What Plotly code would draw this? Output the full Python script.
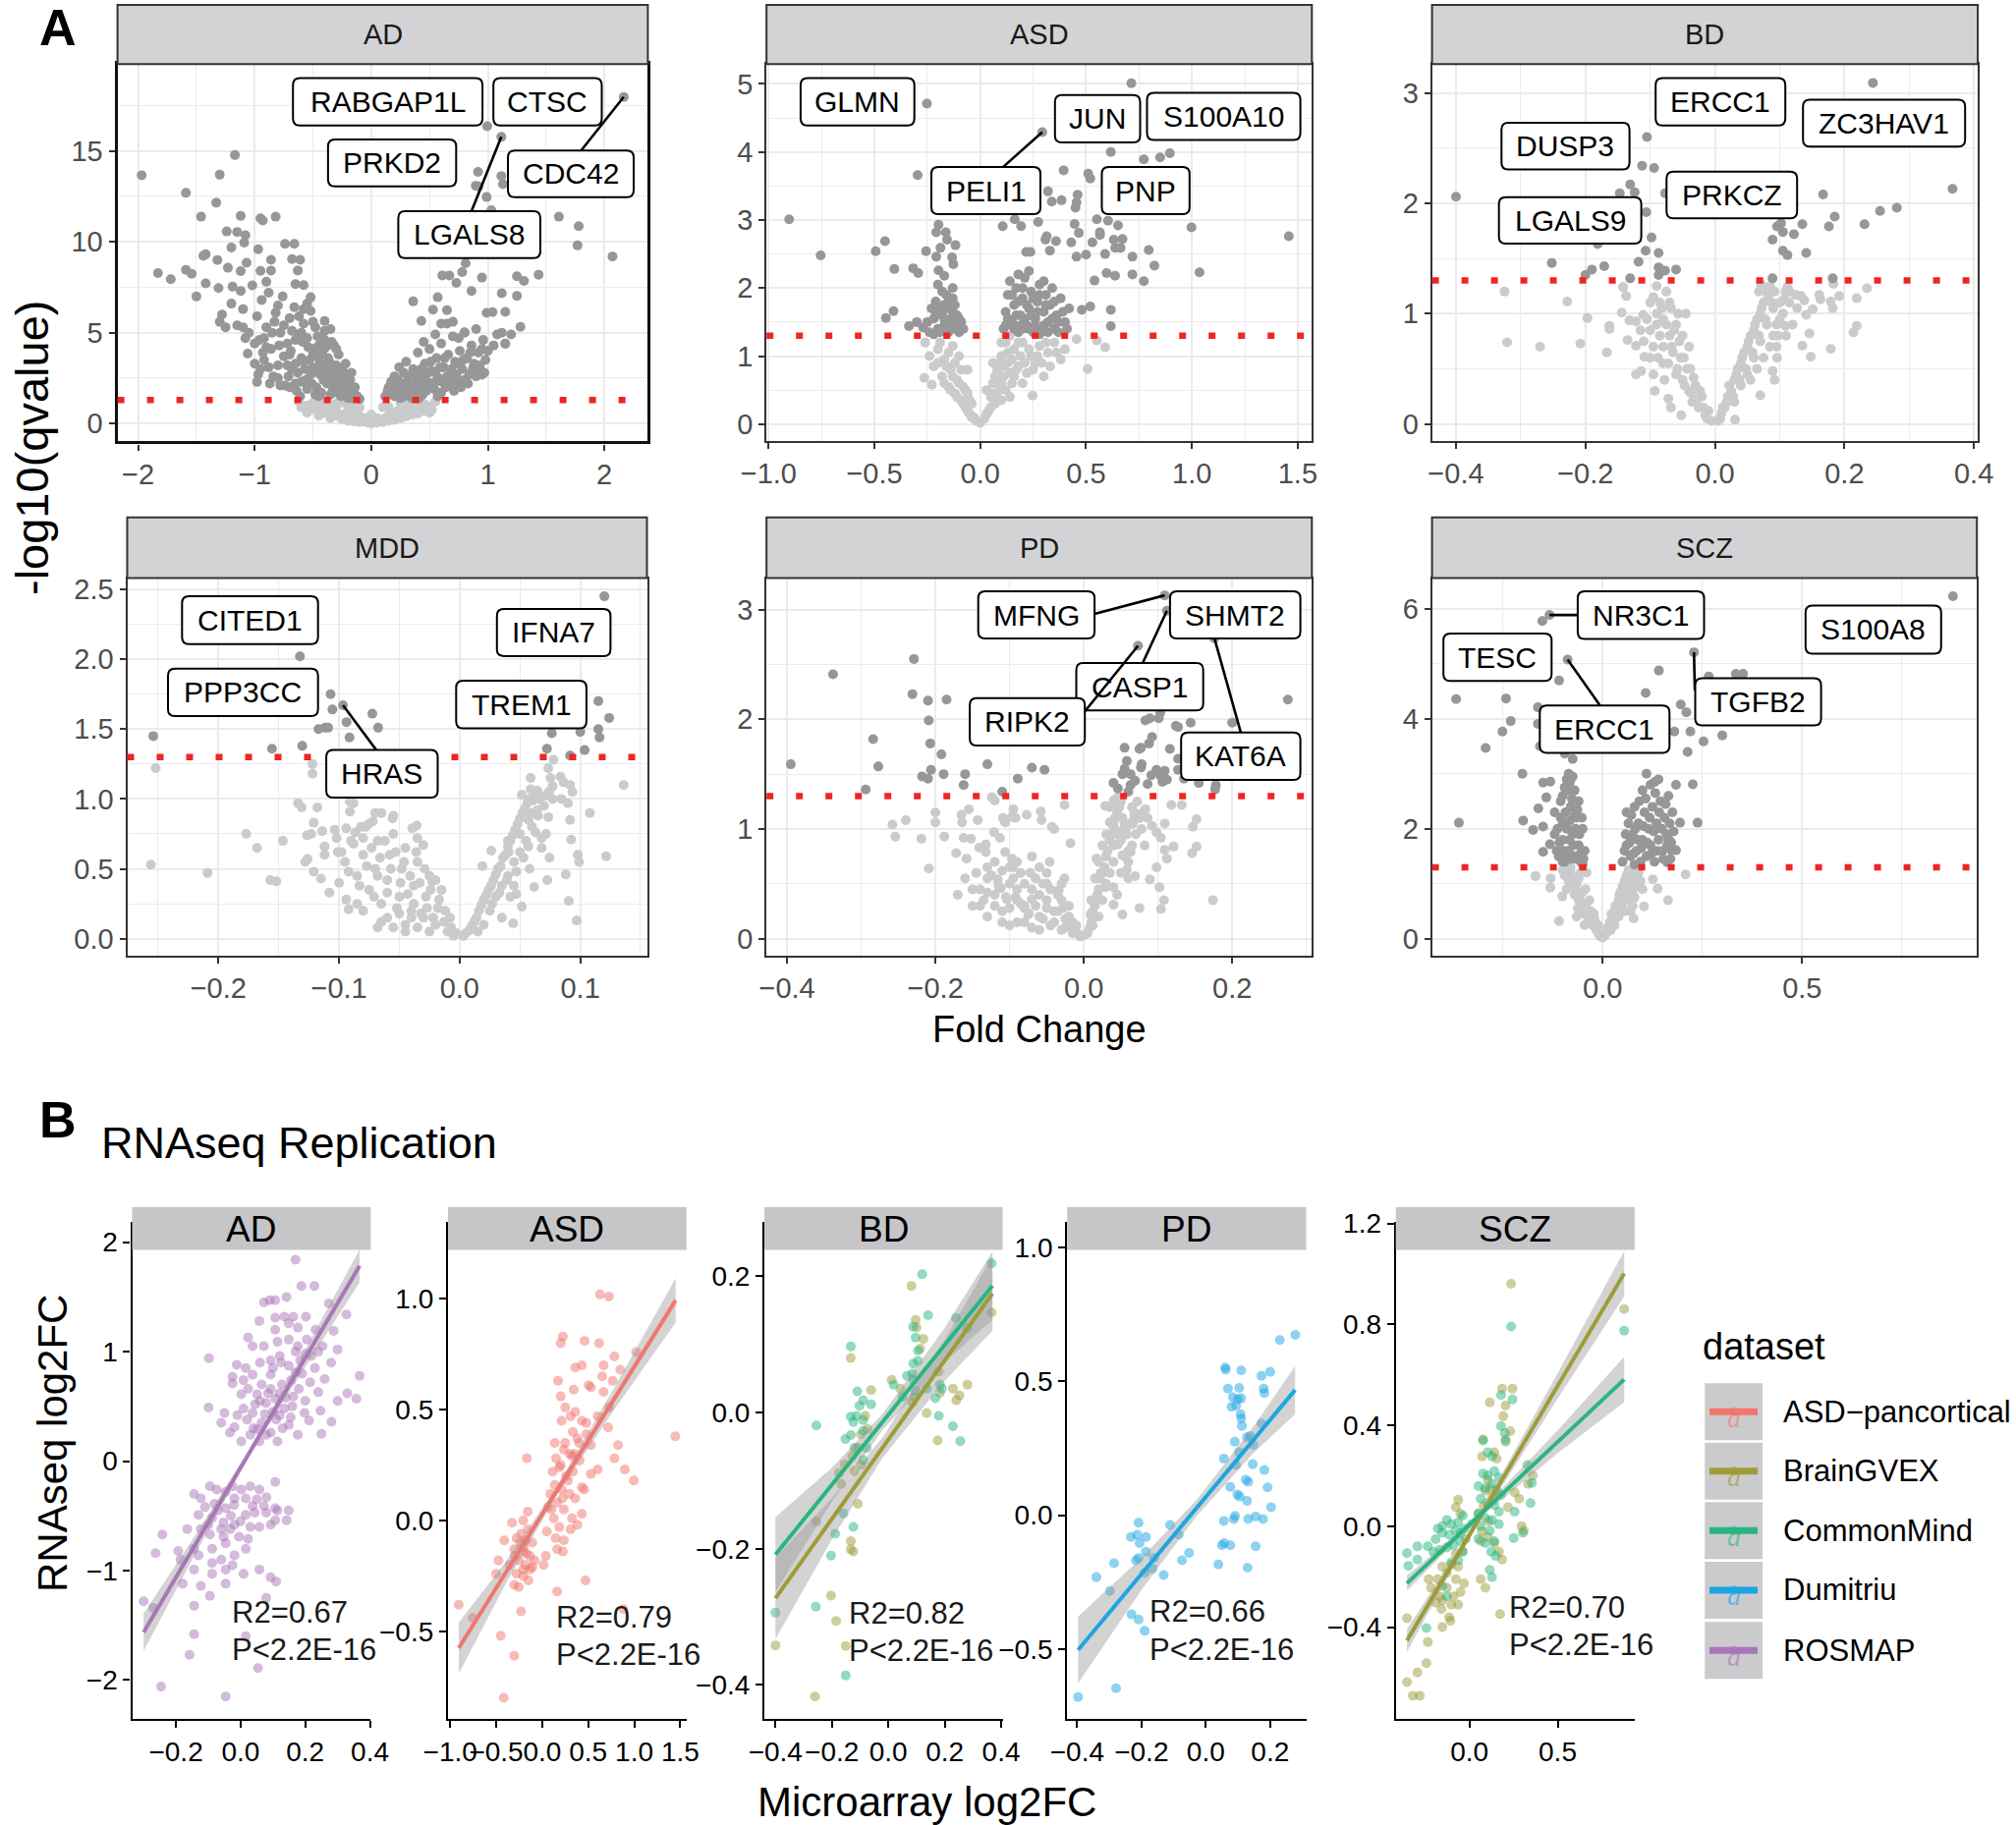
import plotly.graph_objects as go

W, H = 2052, 1858
FONT = "Liberation Sans, Arial, Helvetica, sans-serif"

# ============ PANEL A DATA: (fold change, -log10 qvalue) ============
Q_THRESHOLD = 1.3

AD_POINTS = [
    (-1.97, 13.66), (-1.17, 14.77), (-1.30, 13.69), (-1.59, 12.69), (-1.33, 12.15), (-1.46, 11.38),
    (-1.12, 11.42), (-0.95, 11.29), (-0.93, 11.17), (-0.82, 11.38), (-1.24, 10.57), (-1.15, 10.54),
    (-1.08, 10.36), (-1.20, 9.68), (-1.09, 9.95), (-0.97, 9.59), (-0.74, 9.89), (-0.66, 9.89),
    (-0.68, 9.05), (-0.61, 9.01), (-0.86, 9.01), (-1.83, 8.28), (-1.72, 7.94), (-1.59, 8.46),
    (-1.54, 8.24), (-1.44, 9.23), (-1.42, 9.32), (-1.32, 9.0), (-1.23, 8.57), (-1.07, 8.85),
    (-1.42, 7.71), (-1.50, 6.99), (-1.31, 7.46), (-1.19, 7.53), (-1.12, 8.39), (-0.86, 8.42),
    (-0.63, 8.42), (-0.65, 7.67), (-0.58, 7.62), (-0.52, 6.95), (-0.40, 5.65), (-0.32, 4.30),
    (-0.98, 2.29), (-1.06, 3.85),
    (0.995, 16.36), (1.116, 15.77), (2.166, 17.96), (0.916, 13.84), (0.897, 13.08), (0.92, 13.05),
    (0.99, 12.46), (1.116, 13.62), (1.13, 13.17), (1.03, 11.74), (1.61, 11.38), (1.78, 10.86),
    (1.77, 9.80), (2.07, 9.19), (0.81, 8.82), (0.78, 8.33), (0.61, 8.15), (0.67, 8.15), (0.73, 7.74),
    (0.86, 7.29), (0.95, 8.03), (1.25, 8.10), (1.31, 7.85), (1.436, 8.19), (1.12, 7.17), (1.25, 7.03),
    (1.15, 6.15), (0.99, 6.09), (1.04, 6.13), (1.28, 5.32), (0.36, 6.72), (0.57, 6.95), (0.53, 6.27),
    (0.65, 6.24), (0.43, 5.65), (0.65, 5.50), (1.15, 4.39), (0.95, 2.69), (0.80, 5.02),
    (-0.98, 5.9), (-0.96, 4.6), (-0.94, 6.8), (-0.92, 3.5), (-0.9, 5.3), (-0.88, 7.2), (-0.86, 4.1),
    (-0.84, 2.6), (-0.82, 6.1), (-0.8, 3.2), (-0.78, 5.0), (-0.76, 7.0), (-0.74, 2.1), (-0.72, 4.4),
    (-0.7, 5.8), (-0.68, 3.0), (-0.66, 6.4), (-0.64, 1.8), (-0.62, 4.9), (-0.6, 3.6), (-0.58, 5.5),
    (-0.56, 2.4), (-0.54, 4.2), (-0.52, 6.2), (-0.5, 3.1), (-0.48, 1.6), (-0.46, 4.8), (-0.44, 2.7),
    (-0.42, 3.9), (-0.4, 5.1), (-0.38, 2.2), (-0.36, 3.4), (-0.34, 4.5), (-0.32, 1.9), (-0.3, 2.9),
    (-0.28, 3.8), (-0.26, 1.5), (-0.24, 2.5), (-0.22, 3.3), (-0.2, 1.8), (-0.18, 2.4), (-0.16, 1.4),
    (-0.14, 2.0), (-0.12, 1.5), (-0.97, 2.7), (-0.93, 3.9), (-0.87, 2.2), (-0.83, 5.6), (-0.79, 4.3),
    (-0.75, 3.7), (-0.71, 2.6), (-0.69, 4.0), (-0.65, 3.3), (-0.63, 2.8), (-0.61, 1.5), (-0.59, 4.5),
    (-0.57, 3.0), (-0.55, 1.9), (-0.53, 3.5), (-0.51, 2.2), (-0.49, 4.1), (-0.47, 2.9), (-0.45, 3.6),
    (-0.43, 1.7), (-0.41, 2.4), (-0.39, 4.2), (-0.37, 2.8), (-0.35, 1.6), (-0.33, 3.1), (-0.31, 2.3),
    (-0.29, 1.7), (-0.27, 2.6), (-0.25, 2.0), (-0.23, 1.6), (-0.21, 2.2), (-1.05, 5.0), (-1.1, 6.3),
    (-1.15, 5.4), (-1.2, 6.6), (-1.25, 5.3), (-1.28, 6.0), (-1.3, 5.6), (-1.02, 7.6), (-1.08, 4.7),
    (-1.12, 7.3), (-0.9, 7.8), (-0.95, 8.4),
    (0.12, 1.5), (0.15, 2.0), (0.18, 1.6), (0.2, 2.6), (0.22, 1.9), (0.24, 3.1), (0.26, 2.2),
    (0.28, 1.5), (0.3, 3.4), (0.32, 2.5), (0.34, 1.8), (0.36, 3.0), (0.38, 2.1), (0.4, 3.9),
    (0.42, 2.7), (0.44, 1.6), (0.46, 3.3), (0.48, 2.3), (0.5, 4.1), (0.52, 2.9), (0.54, 1.9),
    (0.56, 3.6), (0.58, 2.5), (0.6, 4.4), (0.62, 3.1), (0.64, 2.0), (0.66, 3.8), (0.68, 2.7),
    (0.7, 4.8), (0.72, 3.4), (0.74, 2.3), (0.76, 4.0), (0.78, 3.0), (0.8, 5.0), (0.82, 3.6),
    (0.84, 2.7), (0.86, 4.3), (0.88, 3.3), (0.9, 5.2), (0.92, 3.9), (0.94, 2.9), (0.96, 4.6),
    (0.98, 3.5), (1.0, 4.0), (1.05, 4.3), (1.08, 4.9), (1.12, 5.0), (1.15, 4.4), (1.2, 4.9),
    (0.25, 1.4), (0.35, 1.4), (0.45, 2.1), (0.55, 2.3), (0.65, 2.6), (0.75, 3.3), (0.85, 3.9),
    (0.95, 4.1), (0.3, 2.0), (0.4, 1.7), (0.5, 2.0), (0.6, 1.7), (0.7, 2.2), (0.8, 2.4), (0.9, 2.6),
    (-0.62, 1.2), (-0.55, 1.0), (-0.5, 1.15), (-0.45, 0.8), (-0.4, 1.0), (-0.35, 0.65), (-0.3, 0.9),
    (-0.25, 0.5), (-0.2, 0.7), (-0.18, 0.35), (-0.15, 0.5), (-0.12, 0.25), (-0.1, 0.4), (-0.08, 0.15),
    (-0.05, 0.1), (-0.03, 0.05), (0.0, 0.02), (0.03, 0.06), (0.06, 0.12), (0.09, 0.2), (0.12, 0.3),
    (0.15, 0.45), (0.18, 0.55), (0.2, 0.35), (0.23, 0.7), (0.26, 0.5), (0.3, 0.85), (0.33, 0.6),
    (0.36, 1.0), (0.4, 0.8), (0.45, 1.1), (0.5, 0.95), (0.55, 1.2), (0.52, 0.75), (-0.28, 1.2),
    (-0.38, 1.25), (-0.22, 1.1), (0.25, 1.15), (0.1, 0.9), (-0.1, 0.9), (0.0, 0.5), (0.05, 0.3),
    (-0.05, 0.3), (0.15, 0.9), (-0.15, 1.0),
]
AD_POINTS_CORE = [
    (-0.95, 3.0), (-0.9, 4.2), (-0.85, 5.0), (-0.8, 6.5), (-0.8, 2.5), (-0.75, 5.4), (-0.7, 3.8),
    (-0.7, 2.0), (-0.65, 4.6), (-0.62, 5.9), (-0.6, 2.3), (-0.58, 3.4), (-0.55, 4.7), (-0.55, 6.6),
    (-0.52, 2.7), (-0.5, 3.8), (-0.5, 5.6), (-0.47, 2.0), (-0.45, 4.3), (-0.45, 1.5), (-0.42, 3.2),
    (-0.4, 2.6), (-0.4, 4.6), (-0.37, 3.6), (-0.35, 2.4), (-0.35, 5.2), (-0.33, 2.0), (-0.3, 3.2),
    (-0.3, 4.1), (-0.28, 2.2), (-0.26, 3.0), (-0.25, 1.6), (-0.23, 2.8), (-0.2, 2.5), (-0.2, 1.4),
    (-0.18, 1.9), (-0.17, 2.8), (-0.15, 1.7), (-0.13, 1.5), (-0.1, 1.35), (-0.65, 2.2), (-0.72, 3.2),
    (-0.78, 2.1), (-0.88, 3.1), (-0.92, 4.7), (-1.0, 4.4), (-1.0, 3.3), (-1.1, 5.3), (-0.6, 5.0),
    (-0.68, 5.1), (-0.58, 6.3), (-0.48, 5.3), (-0.44, 3.3), (-0.38, 3.0), (-0.32, 2.6),
    (0.14, 1.8), (0.17, 2.3), (0.2, 1.5), (0.23, 2.4), (0.26, 1.8), (0.28, 2.8), (0.31, 2.2),
    (0.33, 1.5), (0.35, 2.7), (0.37, 1.9), (0.39, 2.5), (0.41, 1.4), (0.43, 3.0), (0.45, 2.5),
    (0.47, 1.8), (0.49, 2.8), (0.51, 3.4), (0.53, 2.1), (0.55, 2.8), (0.57, 1.5), (0.59, 3.1),
    (0.61, 2.3), (0.63, 3.6), (0.67, 2.2), (0.69, 3.0), (0.71, 1.8), (0.73, 2.7), (0.77, 2.0),
    (0.79, 3.5), (0.83, 2.2), (0.87, 3.0), (0.93, 3.2), (0.97, 2.8), (0.45, 4.5), (0.55, 4.9),
    (0.6, 5.5), (0.7, 5.6), (0.75, 4.7),
    (-0.55, 0.6), (-0.45, 0.45), (-0.35, 0.3), (-0.3, 0.45), (-0.25, 0.25), (-0.2, 0.15), (-0.15, 0.12),
    (-0.1, 0.08), (0.05, 0.05), (0.1, 0.08), (0.15, 0.15), (0.2, 0.2), (0.25, 0.3), (0.3, 0.4),
    (0.35, 0.5), (0.4, 0.55), (0.45, 0.7), (0.5, 0.6), (-0.5, 0.8), (-0.4, 0.6), (-0.6, 0.9),
    (0.3, 1.1), (0.4, 1.2), (-0.35, 1.1), (-0.45, 1.2),
]

ASD_POINTS = [
    (0.714, 5.01), (-0.252, 4.71), (0.293, 4.29), (0.617, 4.0), (0.773, 3.89), (0.85, 3.92),
    (0.896, 3.98), (0.394, 3.73), (0.51, 3.68), (0.52, 3.61), (-0.296, 3.66), (0.32, 3.42),
    (0.338, 3.27), (0.384, 3.29), (0.46, 3.37), (0.455, 3.26), (0.45, 3.18), (-0.903, 3.01),
    (-0.754, 2.48), (-0.494, 2.54), (-0.45, 2.69), (-0.406, 2.28), (-0.317, 2.29), (-0.293, 2.22),
    (-0.197, 2.93), (-0.208, 2.82), (-0.163, 2.82), (-0.157, 2.71), (-0.117, 2.63), (-0.256, 2.54),
    (-0.208, 2.46), (-0.188, 2.59), (-0.133, 2.45), (-0.127, 2.35), (-0.197, 2.26), (-0.17, 2.18),
    (0.106, 2.91), (0.163, 3.01), (0.193, 2.91), (0.274, 2.97), (0.314, 2.76), (0.358, 2.69),
    (0.308, 2.71), (0.217, 2.53), (0.237, 2.53), (0.329, 2.55), (0.43, 2.67), (0.446, 2.94),
    (0.466, 2.81), (0.551, 3.01), (0.565, 2.82), (0.566, 2.78), (0.604, 2.99), (0.651, 2.92),
    (0.631, 2.71), (0.672, 2.72), (0.638, 2.59), (0.663, 2.59), (0.53, 2.67), (0.5, 2.49),
    (0.455, 2.46), (0.59, 2.5), (0.719, 2.46), (0.719, 2.20), (0.796, 2.56), (0.823, 2.33),
    (0.773, 2.10), (0.998, 2.89), (1.036, 2.23), (1.458, 2.76), (0.597, 2.22), (0.637, 2.18),
    (0.54, 2.11), (0.48, 1.68), (0.52, 1.73), (0.617, 1.68), (0.617, 1.44), (-0.41, 1.66),
    (-0.446, 1.56), (-0.337, 1.44), (0.455, 1.25), (0.551, 1.23), (0.59, 1.13), (0.507, 0.81),
    (-0.264, 0.68), (-0.228, 0.58), (0.247, 0.42),
    (-0.24, 1.35), (-0.22, 1.55), (-0.21, 1.8), (-0.2, 1.4), (-0.19, 1.65), (-0.18, 1.95),
    (-0.17, 1.45), (-0.16, 1.7), (-0.15, 1.35), (-0.14, 1.55), (-0.13, 1.85), (-0.12, 1.4),
    (-0.11, 1.6), (-0.1, 1.35), (-0.09, 1.5), (-0.23, 1.7), (-0.2, 2.05), (-0.16, 1.9),
    (-0.14, 1.75), (-0.12, 1.5), (-0.18, 1.6), (-0.3, 1.5), (-0.27, 1.42),
    (0.11, 1.4), (0.12, 1.65), (0.13, 1.9), (0.14, 2.1), (0.15, 1.5), (0.16, 1.75), (0.17, 2.0),
    (0.18, 1.35), (0.19, 1.6), (0.2, 1.85), (0.21, 2.15), (0.22, 1.45), (0.23, 1.7), (0.24, 1.95),
    (0.25, 1.35), (0.26, 1.55), (0.27, 1.8), (0.28, 2.05), (0.29, 1.4), (0.3, 1.65), (0.31, 1.9),
    (0.32, 1.5), (0.33, 1.75), (0.34, 2.0), (0.35, 1.4), (0.36, 1.6), (0.38, 1.85), (0.4, 1.5),
    (0.42, 1.7), (0.14, 1.3), (0.2, 1.4), (0.28, 1.32), (0.37, 1.35),
    (-0.26, 1.2), (-0.24, 1.0), (-0.22, 0.85), (-0.2, 1.1), (-0.18, 0.7), (-0.17, 0.95),
    (-0.15, 0.55), (-0.14, 0.8), (-0.12, 0.45), (-0.11, 0.65), (-0.1, 1.0), (-0.09, 0.35),
    (-0.08, 0.55), (-0.07, 0.25), (-0.06, 0.45), (-0.05, 0.15), (-0.04, 0.3), (-0.03, 0.1),
    (-0.02, 0.05), (0.0, 0.02), (0.02, 0.08), (0.04, 0.2), (0.05, 0.4), (0.06, 0.6), (0.07, 0.3),
    (0.08, 0.8), (0.09, 0.5), (0.1, 1.0), (0.11, 0.7), (0.12, 1.2), (0.13, 0.9), (0.15, 0.6),
    (0.16, 1.1), (0.18, 0.85), (0.2, 1.2), (0.22, 0.75), (0.24, 1.0), (0.26, 0.9), (0.28, 1.15),
    (0.3, 0.7), (0.32, 1.05), (0.35, 1.2), (0.38, 0.95), (0.4, 1.1), (0.03, 0.5), (0.06, 0.9),
    (-0.06, 0.8), (-0.13, 1.15), (0.1, 0.35), (0.14, 0.4),
]
ASD_POINTS_CORE = [
    (-0.22, 1.32), (-0.2, 1.7), (-0.19, 1.35), (-0.17, 1.55), (-0.16, 1.45), (-0.15, 1.8), (-0.14, 1.4),
    (-0.13, 1.65), (-0.12, 1.75), (-0.11, 1.45), (-0.1, 1.55), (-0.08, 1.4), (-0.25, 1.5), (-0.21, 1.6),
    (-0.13, 2.0), (-0.17, 1.75),
    (0.12, 1.45), (0.13, 1.55), (0.15, 1.9), (0.16, 1.4), (0.17, 1.6), (0.18, 1.8), (0.19, 1.45),
    (0.2, 2.0), (0.21, 1.55), (0.22, 1.75), (0.23, 1.4), (0.24, 1.6), (0.25, 1.85), (0.26, 1.45),
    (0.27, 1.65), (0.28, 1.9), (0.3, 1.45), (0.31, 1.75), (0.32, 1.35), (0.34, 1.55), (0.35, 1.8),
    (0.37, 1.5), (0.39, 1.65), (0.41, 1.4), (0.18, 2.2), (0.23, 2.25), (0.3, 2.1),
    (-0.2, 0.9), (-0.19, 1.2), (-0.17, 0.6), (-0.16, 0.85), (-0.15, 1.05), (-0.14, 0.5), (-0.13, 0.7),
    (-0.12, 0.9), (-0.11, 0.4), (-0.1, 0.6), (-0.09, 0.8), (-0.08, 0.3), (-0.07, 0.5), (-0.06, 0.2),
    (-0.05, 0.35), (-0.04, 0.1), (0.03, 0.15), (0.05, 0.25), (0.06, 0.45), (0.07, 0.7), (0.08, 0.4),
    (0.09, 0.9), (0.1, 0.6), (0.11, 0.85), (0.12, 0.5), (0.13, 1.05), (0.14, 0.75), (0.15, 0.95),
    (0.17, 0.8), (0.19, 1.0), (0.21, 0.9), (0.23, 1.1), (0.25, 0.8), (0.27, 1.0), (0.29, 0.9),
    (0.31, 1.2), (0.33, 0.85), (0.36, 1.05), (0.18, 1.2), (0.1, 1.2), (0.16, 0.7), (0.2, 0.6),
]

BD_POINTS = [
    (0.244, 3.09), (-0.105, 2.60), (-0.1125, 2.34), (-0.094, 2.32), (-0.4, 2.06), (-0.131, 2.17),
    (-0.147, 2.09), (-0.124, 2.10), (-0.077, 2.09), (-0.106, 1.92), (0.367, 2.13), (0.167, 2.08),
    (0.255, 1.93), (0.281, 1.96), (0.185, 1.88), (0.176, 1.79), (0.231, 1.81), (0.135, 1.81),
    (0.096, 1.79), (0.102, 1.82), (0.105, 1.74), (0.122, 1.72), (0.089, 1.67), (0.105, 1.57),
    (0.112, 1.53), (0.141, 1.55), (-0.098, 1.69), (-0.181, 1.63), (-0.107, 1.57), (-0.087, 1.55),
    (-0.118, 1.47), (-0.171, 1.43), (-0.19, 1.40), (-0.2, 1.35), (-0.252, 1.46), (-0.087, 1.42),
    (-0.077, 1.39), (-0.087, 1.35), (-0.06, 1.40), (-0.131, 1.32), (0.089, 1.32), (0.182, 1.32),
    (-0.325, 1.2), (-0.228, 1.11), (-0.321, 0.74), (-0.27, 0.70), (-0.208, 0.73), (-0.197, 0.96),
    (-0.167, 0.65), (-0.163, 0.89), (-0.163, 0.86), (-0.144, 1.01), (-0.135, 0.76), (-0.122, 0.71),
    (-0.132, 0.94), (-0.122, 0.93), (-0.111, 0.99), (-0.122, 0.45), (-0.114, 0.48), (-0.109, 0.61),
    (-0.093, 0.30), (-0.072, 0.23), (-0.068, 0.15), (-0.052, 0.08), (-0.142, 1.24), (-0.137, 1.16),
    (0.183, 1.27), (0.192, 1.16), (0.219, 1.14), (0.235, 1.23), (0.179, 1.11), (0.182, 1.05),
    (0.161, 1.17), (0.163, 1.13), (0.133, 1.16), (0.125, 1.17), (0.138, 1.12), (0.107, 1.13),
    (0.115, 1.10), (0.127, 1.05), (0.151, 1.04), (0.141, 0.99), (0.219, 0.89), (0.214, 0.83),
    (0.179, 0.68), (0.146, 0.82), (0.148, 0.61), (0.135, 0.71), (0.109, 0.89), (0.097, 0.80),
    (0.096, 0.6), (0.089, 0.48), (0.092, 0.40), (0.07, 0.26), (0.031, 0.04), (0.112, 1.24),
    (0.109, 1.20), (0.068, 1.2), (0.071, 1.27),
    (-0.09, 1.25), (-0.085, 1.1), (-0.08, 0.95), (-0.075, 1.2), (-0.07, 0.8), (-0.068, 1.05),
    (-0.065, 0.65), (-0.06, 0.9), (-0.058, 0.5), (-0.055, 0.75), (-0.05, 0.4), (-0.048, 0.6),
    (-0.045, 1.0), (-0.04, 0.3), (-0.038, 0.5), (-0.035, 0.2), (-0.03, 0.35), (-0.025, 0.15),
    (-0.02, 0.25), (-0.015, 0.08), (-0.01, 0.12), (-0.005, 0.03), (-0.1, 0.85), (-0.095, 0.7),
    (-0.08, 0.55), (-0.09, 1.0), (-0.078, 0.4),
    (0.005, 0.03), (0.01, 0.1), (0.015, 0.15), (0.02, 0.25), (0.025, 0.3), (0.03, 0.4),
    (0.035, 0.5), (0.04, 0.55), (0.045, 0.65), (0.05, 0.7), (0.055, 0.8), (0.06, 0.85),
    (0.065, 0.95), (0.07, 1.0), (0.075, 1.1), (0.08, 1.2), (0.085, 1.25), (0.04, 0.35),
    (0.05, 0.45), (0.06, 0.6), (0.07, 0.75), (0.08, 0.9), (0.09, 1.05), (0.1, 0.95), (0.065, 0.5),
    (0.09, 0.8), (0.03, 0.2), (0.055, 0.4),
]
BD_POINTS_CORE = [
    (-0.095, 1.15), (-0.09, 0.9), (-0.088, 0.6), (-0.085, 0.8), (-0.082, 1.05), (-0.08, 0.7),
    (-0.075, 0.9), (-0.072, 0.55), (-0.07, 1.1), (-0.067, 0.7), (-0.063, 0.85), (-0.06, 0.45),
    (-0.057, 1.0), (-0.053, 0.6), (-0.05, 0.8), (-0.047, 0.35), (-0.043, 0.5), (-0.04, 0.7),
    (-0.037, 0.28), (-0.033, 0.42), (-0.028, 0.22), (-0.023, 0.3), (-0.018, 0.15), (-0.012, 0.05),
    (-0.1, 1.1), (-0.105, 0.95), (-0.11, 0.75), (-0.115, 0.85), (-0.1, 0.6), (-0.095, 0.45),
    (0.008, 0.05), (0.012, 0.15), (0.018, 0.2), (0.022, 0.35), (0.028, 0.25), (0.033, 0.45),
    (0.038, 0.4), (0.042, 0.6), (0.048, 0.5), (0.052, 0.75), (0.058, 0.65), (0.062, 0.9),
    (0.068, 0.8), (0.072, 1.05), (0.078, 0.95), (0.082, 1.15), (0.088, 1.1), (0.092, 1.2),
    (0.095, 0.9), (0.1, 1.1), (0.105, 1.0), (0.11, 0.8), (0.085, 0.7), (0.075, 0.6), (0.095, 0.7),
    (0.12, 0.9), (0.115, 1.2),
]

MDD_POINTS = [
    (0.12, 2.45), (-0.1324, 2.02), (-0.107, 1.75), (-0.0967, 1.67), (-0.1055, 1.64), (-0.0724, 1.61),
    (-0.0676, 1.51), (-0.0938, 1.55), (-0.0913, 1.44), (-0.1116, 1.51), (-0.109, 1.51), (-0.117, 1.50),
    (-0.1305, 1.38), (-0.1556, 1.36), (-0.254, 1.45), (0.115, 1.70), (0.124, 1.58), (0.115, 1.50),
    (0.116, 1.44), (0.1, 1.48), (0.1036, 1.35), (0.0764, 1.47), (0.0724, 1.36), (0.0916, 1.31),
    (-0.252, 1.22), (-0.256, 0.53), (-0.209, 0.47), (-0.177, 0.75), (-0.168, 0.65), (-0.157, 0.42),
    (-0.152, 0.41), (-0.1465, 0.70), (-0.122, 1.25), (-0.122, 1.18), (-0.134, 0.97), (-0.131, 0.94),
    (-0.121, 0.83), (-0.118, 0.94), (-0.1265, 0.74), (-0.123, 0.75), (-0.128, 0.55), (-0.126, 0.57),
    (-0.121, 0.48), (-0.115, 0.43), (-0.108, 0.33), (-0.114, 0.77), (-0.112, 0.66), (-0.112, 0.60),
    (-0.1036, 0.78), (-0.102, 0.72), (-0.101, 0.62), (-0.091, 0.98), (-0.091, 0.91), (-0.088, 0.97),
    (-0.094, 0.79), (-0.0865, 0.76), (-0.094, 0.28), (-0.092, 0.21), (-0.0818, 0.80), (-0.0756, 0.82),
    (-0.072, 0.84), (-0.0647, 0.90), (-0.0556, 0.86), (-0.0393, 0.79), (-0.0356, 0.81), (-0.0302, 0.67),
    (-0.0229, 0.41), (-0.068, 0.08), (0.0189, 0.52), (0.0262, 0.63), (0.0316, 0.50), (0.04, 0.70),
    (0.0407, 0.62), (0.047, 0.32), (0.0516, 1.03), (0.0589, 1.07), (0.0644, 1.06), (0.0607, 0.99),
    (0.0589, 1.15), (0.0535, 0.90), (0.0571, 0.85), (0.0644, 0.92), (0.0735, 1.22), (0.0753, 1.15),
    (0.0836, 1.16), (0.0771, 1.09), (0.0862, 1.12), (0.0778, 1.28), (0.0698, 1.02), (0.0771, 1.0),
    (0.0844, 1.0), (0.0916, 1.10), (0.0935, 1.05), (0.0898, 0.97), (0.0735, 0.87), (0.0716, 0.75),
    (0.068, 0.65), (0.0727, 0.42), (0.0618, 0.37), (0.0516, 0.23), (0.0444, 0.11), (0.0916, 0.85),
    (0.0924, 0.71), (0.0745, 0.58), (0.088, 0.46), (0.0905, 0.27), (0.097, 0.13), (0.098, 0.60),
    (0.099, 0.55), (0.108, 0.90), (0.1215, 0.59), (0.136, 1.10),
    (-0.095, 0.55), (-0.09, 0.7), (-0.085, 0.45), (-0.08, 0.6), (-0.078, 0.8), (-0.075, 0.35),
    (-0.07, 0.5), (-0.068, 0.7), (-0.065, 0.25), (-0.06, 0.42), (-0.058, 0.6), (-0.055, 0.75),
    (-0.05, 0.3), (-0.048, 0.5), (-0.045, 0.65), (-0.04, 0.2), (-0.038, 0.38), (-0.035, 0.55),
    (-0.03, 0.15), (-0.028, 0.3), (-0.025, 0.45), (-0.02, 0.1), (-0.018, 0.22), (-0.015, 0.35),
    (-0.01, 0.05), (-0.008, 0.15), (-0.005, 0.02), (-0.06, 0.15), (-0.045, 0.1), (-0.085, 0.25),
    (-0.1, 0.4), (-0.08, 0.2), (-0.07, 0.9), (-0.055, 0.88), (-0.035, 0.72),
    (0.003, 0.02), (0.008, 0.06), (0.012, 0.12), (0.016, 0.2), (0.02, 0.28), (0.024, 0.35),
    (0.028, 0.42), (0.032, 0.5), (0.036, 0.58), (0.04, 0.66), (0.044, 0.74), (0.048, 0.82),
    (0.052, 0.9), (0.056, 0.97), (0.025, 0.2), (0.03, 0.3), (0.035, 0.38), (0.04, 0.45),
    (0.045, 0.55), (0.05, 0.62), (0.055, 0.7), (0.06, 0.8), (0.065, 0.88), (0.02, 0.1),
    (0.015, 0.05), (0.035, 0.15), (0.042, 0.3), (0.058, 0.5), (0.068, 0.72),
]
MDD_POINTS_CORE = [
    (-0.098, 0.62), (-0.092, 0.48), (-0.088, 0.68), (-0.083, 0.38), (-0.08, 0.72), (-0.077, 0.52),
    (-0.073, 0.65), (-0.071, 0.3), (-0.068, 0.45), (-0.066, 0.58), (-0.062, 0.7), (-0.06, 0.33),
    (-0.057, 0.5), (-0.053, 0.62), (-0.052, 0.22), (-0.049, 0.4), (-0.046, 0.55), (-0.043, 0.32),
    (-0.041, 0.45), (-0.038, 0.25), (-0.036, 0.62), (-0.033, 0.4), (-0.032, 0.18), (-0.029, 0.5),
    (-0.027, 0.22), (-0.024, 0.35), (-0.022, 0.15), (-0.02, 0.42), (-0.017, 0.28), (-0.013, 0.12),
    (-0.012, 0.2), (-0.007, 0.08), (-0.003, 0.04), (-0.065, 0.12), (-0.055, 0.08), (-0.045, 0.05),
    (-0.035, 0.08), (-0.025, 0.05), (-0.04, 0.15), (-0.05, 0.18),
    (0.005, 0.04), (0.01, 0.09), (0.014, 0.15), (0.018, 0.24), (0.022, 0.31), (0.026, 0.38),
    (0.03, 0.46), (0.034, 0.52), (0.038, 0.6), (0.042, 0.7), (0.046, 0.78), (0.05, 0.86),
    (0.054, 0.93), (0.058, 1.0), (0.062, 1.05), (0.066, 1.0), (0.07, 0.95), (0.074, 1.05),
    (0.06, 0.9), (0.027, 0.25), (0.033, 0.33), (0.039, 0.42), (0.047, 0.48), (0.053, 0.58),
    (0.057, 0.66), (0.063, 0.76), (0.045, 0.38), (0.05, 0.75),
]

PD_POINTS = [
    (0.109, 3.13), (0.112, 2.99), (0.073, 2.67), (0.176, 2.74), (-0.229, 2.55), (-0.338, 2.41),
    (-0.231, 2.23), (-0.21, 2.17), (-0.185, 2.18), (0.275, 2.18), (-0.209, 1.99), (-0.284, 1.82),
    (-0.207, 1.78), (-0.192, 1.68), (-0.395, 1.59), (-0.277, 1.57), (-0.206, 1.54), (-0.218, 1.48),
    (-0.21, 1.46), (-0.189, 1.50), (-0.16, 1.50), (-0.162, 1.40), (-0.13, 1.59), (-0.089, 1.46),
    (-0.07, 1.56), (-0.053, 1.54), (-0.294, 1.36), (-0.11, 1.34), (0.2, 1.97), (0.144, 1.97),
    (0.124, 1.94), (0.127, 1.93), (0.083, 1.99), (0.089, 2.01), (0.101, 2.01), (0.103, 2.06),
    (0.092, 1.84), (0.088, 1.78), (0.116, 1.73), (0.055, 1.74), (0.075, 1.73), (0.058, 1.62),
    (0.078, 1.59), (0.055, 1.55), (0.052, 1.50), (0.063, 1.50), (0.04, 1.42), (0.046, 1.37),
    (0.069, 1.44), (0.063, 1.40), (0.06, 1.34), (0.086, 1.41), (0.091, 1.49), (0.098, 1.54),
    (0.104, 1.48), (0.109, 1.53), (0.112, 1.45), (0.106, 1.43), (0.127, 1.54), (0.135, 1.46),
    (0.155, 1.42), (0.178, 1.40), (0.177, 1.36), (0.127, 1.64), (0.077, 1.56), (0.077, 1.74),
    (-0.258, 1.04), (-0.254, 0.93), (-0.24, 1.08), (-0.219, 0.91), (-0.209, 0.64), (-0.2, 1.15),
    (-0.2, 1.06), (-0.188, 0.93), (-0.172, 0.78), (-0.158, 0.73), (-0.162, 0.92), (-0.152, 0.91),
    (-0.165, 1.13), (-0.164, 1.06), (-0.155, 1.18), (-0.143, 1.08), (-0.141, 0.83), (-0.132, 0.86),
    (-0.132, 0.79), (-0.124, 1.29), (-0.12, 1.26), (-0.121, 0.97), (-0.113, 0.92), (-0.109, 1.10),
    (-0.106, 1.06), (-0.097, 1.11), (-0.095, 1.18), (-0.092, 1.10), (-0.077, 1.13), (-0.106, 0.79),
    (-0.097, 0.73), (-0.095, 0.65), (-0.116, 0.54), (-0.112, 0.46), (-0.104, 0.36), (-0.092, 0.38),
    (-0.08, 0.28), (-0.074, 0.23), (-0.058, 1.16), (-0.057, 1.08), (-0.043, 1.02), (-0.04, 1.0),
    (-0.018, 0.87), (-0.026, 0.55), (-0.046, 0.70), (-0.06, 0.65), (-0.072, 0.60), (-0.034, 0.44),
    (-0.028, 0.28), (-0.02, 0.19), (-0.014, 0.11), (-0.026, 1.22), (0.029, 1.21), (0.04, 1.26),
    (0.046, 1.29), (0.035, 1.06), (0.04, 1.02), (0.052, 0.99), (0.058, 1.02), (0.066, 1.05),
    (0.068, 1.11), (0.074, 1.10), (0.078, 1.14), (0.083, 1.18), (0.086, 1.10), (0.092, 1.03),
    (0.098, 0.97), (0.104, 0.92), (0.109, 1.05), (0.118, 1.22), (0.132, 1.22), (0.152, 1.09),
    (0.147, 1.02), (0.152, 0.84), (0.146, 0.78), (0.121, 0.84), (0.109, 0.81), (0.112, 0.73),
    (0.098, 0.65), (0.089, 0.54), (0.102, 0.47), (0.108, 0.35), (0.104, 0.27), (0.174, 0.35),
    (0.046, 0.86), (0.052, 0.76), (0.063, 0.79), (0.058, 0.63), (0.069, 0.57), (0.017, 0.73),
    (0.023, 0.60), (0.029, 0.47), (0.015, 0.35), (0.009, 0.22), (0.012, 0.12), (0.04, 0.47),
    (0.04, 0.31), (0.052, 0.22), (0.075, 0.28), (0.0, 0.03),
    (-0.15, 0.45), (-0.14, 0.3), (-0.13, 0.55), (-0.12, 0.4), (-0.11, 0.25), (-0.1, 0.5),
    (-0.09, 0.35), (-0.085, 0.6), (-0.08, 0.15), (-0.07, 0.45), (-0.065, 0.3), (-0.06, 0.2),
    (-0.055, 0.5), (-0.05, 0.35), (-0.045, 0.12), (-0.04, 0.25), (-0.035, 0.4), (-0.03, 0.08),
    (-0.025, 0.18), (-0.02, 0.3), (-0.015, 0.05), (-0.01, 0.12), (-0.005, 0.02), (-0.12, 0.7),
    (-0.1, 0.65), (-0.07, 0.75), (-0.05, 0.6), (-0.09, 0.15), (-0.13, 0.2),
    (0.005, 0.05), (0.01, 0.15), (0.015, 0.3), (0.02, 0.45), (0.025, 0.6), (0.03, 0.75),
    (0.035, 0.9), (0.04, 1.05), (0.045, 1.15), (0.05, 1.25), (0.01, 0.35), (0.02, 0.2),
    (0.03, 0.5), (0.04, 0.7), (0.05, 0.9), (0.055, 1.05), (0.06, 0.8), (0.065, 1.2), (0.07, 0.95),
    (0.075, 1.1), (0.015, 0.55), (0.025, 0.85), (0.035, 1.2), (0.045, 0.4), (0.06, 0.55),
]
PD_POINTS_CORE = [
    (-0.145, 0.6), (-0.14, 0.45), (-0.135, 0.35), (-0.13, 0.42), (-0.125, 0.58), (-0.12, 0.3),
    (-0.115, 0.48), (-0.11, 0.62), (-0.105, 0.38), (-0.1, 0.28), (-0.095, 0.55), (-0.09, 0.45),
    (-0.085, 0.32), (-0.08, 0.5), (-0.075, 0.22), (-0.07, 0.36), (-0.065, 0.55), (-0.06, 0.4),
    (-0.055, 0.18), (-0.05, 0.28), (-0.045, 0.45), (-0.04, 0.15), (-0.035, 0.25), (-0.03, 0.35),
    (-0.025, 0.1), (-0.02, 0.2), (-0.015, 0.15), (-0.01, 0.06), (-0.11, 0.15), (-0.1, 0.12),
    (-0.07, 0.1), (-0.06, 0.08), (-0.08, 0.3), (-0.16, 0.55), (-0.17, 0.4), (-0.15, 0.3),
    (-0.13, 0.65), (-0.09, 0.7), (-0.05, 0.5), (-0.03, 0.5),
    (0.008, 0.1), (0.012, 0.25), (0.018, 0.4), (0.022, 0.55), (0.028, 0.65), (0.032, 0.8),
    (0.038, 0.95), (0.042, 1.1), (0.048, 1.2), (0.052, 1.1), (0.058, 0.95), (0.062, 1.05),
    (0.068, 1.15), (0.072, 1.25), (0.078, 1.0), (0.082, 0.85), (0.02, 0.7), (0.03, 0.95),
    (0.04, 0.85), (0.05, 0.6), (0.06, 0.7), (0.045, 0.95), (0.055, 0.75), (0.065, 0.85),
    (0.035, 0.6), (0.025, 0.35), (0.015, 0.2),
]

SCZ_POINTS = [
    (0.878, 6.23), (-0.133, 5.89), (-0.151, 5.78), (-0.0876, 5.08), (0.229, 5.21), (-0.109, 4.70),
    (0.141, 4.88), (0.266, 4.77), (0.334, 4.82), (0.352, 4.82), (0.108, 4.47), (-0.367, 4.36),
    (-0.242, 4.37), (-0.23, 3.96), (-0.251, 3.77), (-0.162, 4.21), (-0.162, 3.91), (-0.293, 3.47),
    (-0.157, 3.50), (-0.095, 3.37), (-0.075, 3.27), (0.196, 4.26), (0.21, 4.12), (0.18, 3.77),
    (0.22, 3.77), (0.253, 3.59), (0.3, 3.70), (0.213, 3.40), (-0.201, 3.0), (-0.149, 2.84),
    (-0.131, 2.86), (-0.141, 2.57), (-0.161, 2.37), (-0.36, 2.11), (-0.199, 2.15), (-0.174, 1.98),
    (-0.149, 2.04), (-0.132, 1.72), (-0.149, 1.58), (0.226, 2.81), (0.238, 2.11), (0.184, 2.80),
    (0.184, 1.61), (0.194, 2.11), (0.165, 1.81), (0.173, 1.61), (0.162, 1.39),
    (-0.11, 1.5), (-0.105, 2.2), (-0.1, 1.8), (-0.1, 2.6), (-0.095, 1.4), (-0.09, 2.0),
    (-0.09, 2.9), (-0.085, 1.6), (-0.08, 2.4), (-0.08, 1.3), (-0.075, 1.9), (-0.07, 2.7),
    (-0.07, 1.5), (-0.065, 2.2), (-0.06, 1.7), (-0.06, 2.5), (-0.055, 1.4), (-0.05, 2.0),
    (-0.05, 1.35), (-0.045, 1.6), (-0.12, 2.3), (-0.12, 1.9), (-0.115, 1.6), (-0.085, 3.0),
    (-0.075, 2.95), (-0.1, 1.4),
    (0.05, 1.4), (0.06, 1.7), (0.065, 2.1), (0.07, 1.5), (0.075, 1.9), (0.08, 2.4), (0.085, 1.6),
    (0.09, 2.1), (0.095, 1.4), (0.1, 2.7), (0.1, 1.8), (0.105, 2.3), (0.11, 1.5), (0.115, 2.0),
    (0.12, 2.8), (0.12, 1.7), (0.125, 2.4), (0.13, 1.4), (0.135, 2.1), (0.14, 2.9), (0.14, 1.8),
    (0.145, 2.5), (0.15, 1.6), (0.155, 2.2), (0.16, 1.9), (0.165, 2.6), (0.17, 1.45), (0.175, 2.3),
    (0.06, 2.3), (0.08, 1.35), (0.11, 3.0), (0.13, 2.85),
    (-0.168, 1.14), (-0.13, 1.10), (-0.131, 0.93), (-0.101, 0.77), (-0.109, 0.32), (0.126, 1.08),
    (0.138, 0.91), (0.164, 0.70), (0.208, 1.17), (0.104, 0.59), (0.078, 0.37),
    (-0.08, 1.2), (-0.07, 0.95), (-0.06, 1.1), (-0.06, 0.7), (-0.05, 0.85), (-0.05, 0.5),
    (-0.04, 0.65), (-0.04, 1.2), (-0.035, 0.35), (-0.03, 0.5), (-0.025, 0.25), (-0.02, 0.35),
    (-0.015, 0.15), (-0.01, 0.1), (-0.005, 0.04), (0.0, 0.02), (0.005, 0.05), (0.01, 0.12),
    (0.015, 0.2), (0.02, 0.3), (0.025, 0.4), (0.03, 0.5), (0.035, 0.6), (0.04, 0.7), (0.045, 0.85),
    (0.05, 0.95), (0.055, 1.05), (0.06, 1.15), (0.065, 1.25), (0.03, 0.25), (0.04, 0.4),
    (0.05, 0.55), (0.06, 0.7), (0.07, 0.85), (0.08, 1.0), (0.09, 1.2), (0.1, 0.9), (0.075, 0.6),
    (-0.09, 0.9), (-0.1, 1.25), (-0.065, 0.4), (-0.045, 0.25), (0.02, 0.15),
]
SCZ_POINTS_CORE = [
    (-0.108, 1.75), (-0.105, 2.5), (-0.1, 2.1), (-0.097, 1.6), (-0.093, 2.3), (-0.09, 1.55),
    (-0.087, 2.7), (-0.083, 1.8), (-0.082, 2.15), (-0.078, 1.45), (-0.077, 2.55), (-0.073, 1.7),
    (-0.068, 2.0), (-0.065, 1.45), (-0.063, 2.35), (-0.058, 1.9), (-0.055, 1.55), (-0.052, 2.2),
    (-0.048, 1.45), (-0.095, 2.75), (-0.082, 2.85), (-0.07, 2.25), (-0.113, 2.0),
    (0.055, 1.6), (0.058, 1.9), (0.068, 1.75), (0.072, 2.25), (0.078, 1.55), (0.082, 2.0),
    (0.088, 1.8), (0.092, 2.5), (0.097, 1.65), (0.102, 2.05), (0.108, 2.55), (0.112, 1.75),
    (0.118, 2.2), (0.122, 1.55), (0.128, 1.95), (0.132, 2.65), (0.137, 1.6), (0.142, 2.3),
    (0.148, 2.0), (0.152, 1.45), (0.158, 2.45), (0.162, 1.7), (0.168, 2.1), (0.172, 1.75),
    (0.178, 1.95),
    (-0.075, 1.1), (-0.07, 0.8), (-0.065, 1.0), (-0.062, 0.55), (-0.057, 0.8), (-0.055, 1.2),
    (-0.052, 0.65), (-0.047, 0.45), (-0.043, 0.9), (-0.038, 0.5), (-0.033, 0.7), (-0.028, 0.3),
    (-0.022, 0.45), (-0.018, 0.2), (-0.012, 0.25), (-0.008, 0.08), (0.008, 0.1), (0.012, 0.2),
    (0.018, 0.3), (0.022, 0.45), (0.028, 0.35), (0.032, 0.6), (0.038, 0.55), (0.042, 0.8),
    (0.048, 0.7), (0.052, 0.85), (0.058, 0.95), (0.062, 1.0), (0.068, 1.1), (0.072, 1.2),
    (0.078, 0.9), (0.085, 1.1), (0.095, 1.05), (0.07, 0.5), (0.08, 0.75), (0.055, 0.5),
    (-0.085, 1.05), (-0.095, 1.15),
]

# labelled genes; coordinates given for labels drawn with a connector segment
AD_LABEL_GENES = ["RABGAP1L", "CTSC", "PRKD2", "CDC42", "LGALS8"]
AD_LABEL_TARGETS = {"CDC42": (2.166, 17.96), "LGALS8": (1.116, 15.77)}
ASD_LABEL_GENES = ["GLMN", "JUN", "S100A10", "PELI1", "PNP"]
ASD_LABEL_TARGETS = {"PELI1": (0.293, 4.29)}
BD_LABEL_GENES = ["ERCC1", "ZC3HAV1", "DUSP3", "PRKCZ", "LGALS9"]
BD_LABEL_TARGETS = {}
MDD_LABEL_GENES = ["CITED1", "IFNA7", "PPP3CC", "TREM1", "HRAS"]
MDD_LABEL_TARGETS = {"HRAS": (-0.0967, 1.67)}
PD_LABEL_GENES = ["MFNG", "SHMT2", "CASP1", "RIPK2", "KAT6A"]
PD_LABEL_TARGETS = {"MFNG": (0.109, 3.13), "CASP1": (0.112, 2.99), "RIPK2": (0.073, 2.67), "KAT6A": (0.176, 2.74)}
SCZ_LABEL_GENES = ["NR3C1", "S100A8", "TESC", "TGFB2", "ERCC1"]
SCZ_LABEL_TARGETS = {"NR3C1": (-0.133, 5.89), "TGFB2": (0.229, 5.21), "ERCC1": (-0.0876, 5.08)}

# ============ PANEL B DATA: (microarray log2FC, RNAseq log2FC) ============
ROSMAP_AD = [
    (0.17, 1.84), (0.188, 1.60), (0.228, 1.60), (0.072, 1.45), (0.09, 1.47), (0.107, 1.47), (0.142, 1.50),
    (0.273, 1.44), (0.327, 1.34), (0.288, 1.19), (0.058, 1.28), (0.107, 1.31), (0.135, 1.32), (0.163, 1.32),
    (0.202, 1.32), (0.023, 1.13), (0.107, 1.20), (0.177, 1.22), (0.232, 1.20), (0.253, 1.05), (-0.098, 0.94),
    (-0.012, 0.88), (0.016, 0.85), (-0.025, 0.77), (-0.025, 0.71), (0.037, 1.05), (0.072, 1.05), (0.093, 0.92),
    (0.121, 0.96), (0.149, 0.87), (0.184, 0.92), (0.219, 0.96), (0.368, 0.78), (0.33, 0.62), (0.358, 0.57),
    (0.281, 0.36), (-0.099, 0.49), (-0.05, 0.44), (-0.06, 0.35), (-0.033, 0.26), (-0.019, 0.31), (0.002, 0.18),
    (0.023, 0.66), (0.051, 0.61), (0.079, 0.53), (0.107, 0.57), (0.135, 0.48), (0.163, 0.59), (0.198, 0.44),
    (0.24, 0.63), (0.009, 0.48), (0.037, 0.44), (0.065, 0.35), (0.093, 0.26), (0.121, 0.42), (0.149, 0.33),
    (0.177, 0.24), (0.212, 0.37), (0.247, 0.46), (0.051, 0.29), (0.079, 0.24), (0.114, 0.18), (0.058, 0.18),
    (0.03, 0.24), (0.093, 0.79), (0.128, 0.70), (0.156, 0.74), (0.17, 0.81), (0.093, 0.66), (0.065, 0.70),
    (0.009, 0.74), (0.037, 0.79), (0.002, 0.61), (0.114, 1.09), (0.149, 1.11), (0.177, 1.05), (0.205, 1.11),
    (0.149, 1.26), (0.06, 0.55), (0.085, 0.62), (0.1, 0.45), (0.12, 0.62), (0.14, 0.58), (0.16, 0.5),
    (0.18, 0.66), (0.2, 0.55), (0.11, 0.38), (0.13, 0.3), (0.155, 0.4), (0.075, 0.43), (0.045, 0.52),
    (0.19, 0.8), (0.215, 0.72), (0.23, 0.85), (0.26, 0.75), (0.1, 0.85), (0.125, 0.9), (0.06, 0.9),
    (0.04, 0.3), (0.02, 0.38), (-0.01, 0.42), (0.17, 1.0), (0.2, 0.98), (0.24, 1.0), (0.28, 0.9),
    (0.3, 1.02), (0.3, 0.55), (0.25, 0.25),
    (-0.095, -0.23), (-0.074, -0.26), (-0.046, -0.28), (-0.025, -0.23), (0.002, -0.26), (0.03, -0.23),
    (0.058, -0.26), (0.107, -0.19), (-0.144, -0.30), (-0.123, -0.34), (-0.081, -0.39), (-0.046, -0.43),
    (-0.019, -0.34), (0.016, -0.34), (0.037, -0.41), (0.072, -0.41), (-0.13, -0.49), (-0.088, -0.52),
    (-0.053, -0.56), (-0.019, -0.58), (0.016, -0.49), (0.044, -0.47), (0.079, -0.47), (0.114, -0.45),
    (0.142, -0.54), (-0.165, -0.62), (-0.123, -0.62), (-0.095, -0.67), (-0.053, -0.69), (-0.032, -0.62),
    (-0.005, -0.69), (0.023, -0.71), (0.058, -0.60), (0.093, -0.58), (-0.242, -0.67), (-0.193, -0.82),
    (-0.144, -0.80), (-0.088, -0.80), (-0.046, -0.75), (0.016, -0.80), (-0.019, -0.86), (-0.263, -0.84),
    (-0.186, -0.90), (-0.13, -0.86), (-0.088, -0.93), (-0.06, -0.90), (-0.025, -0.95), (-0.144, -0.99),
    (-0.088, -1.03), (-0.046, -0.99), (0.009, -1.03), (0.058, -0.99), (0.093, -1.06), (0.11, -1.10),
    (-0.3, -1.28), (-0.27, -1.34), (-0.179, -1.12), (-0.123, -1.14), (-0.095, -1.23), (-0.046, -1.12),
    (-0.144, -1.32), (0.079, -1.25), (-0.158, -1.77), (-0.144, -1.58), (0.016, -1.60), (0.054, -1.89),
    (-0.246, -2.06), (-0.046, -2.15), (0.107, -0.43), (0.149, -0.45), (0.107, -0.54), (-0.07, -0.45),
    (-0.03, -0.5), (0.0, -0.55), (0.03, -0.6), (-0.06, -0.62), (-0.1, -0.58), (-0.02, -0.4), (0.05, -0.35),
    (-0.11, -0.42), (0.08, -0.33),
]

ASDPAN_ASD = [
    (0.627, 1.02), (0.725, 1.01), (0.225, 0.83), (0.201, 0.80), (0.461, 0.81), (0.618, 0.80), (0.172, 0.63),
    (0.358, 0.69), (0.431, 0.70), (0.343, 0.59), (0.505, 0.61), (0.529, 0.60), (0.667, 0.70), (0.784, 0.74),
    (0.848, 0.68), (1.02, 0.76), (0.652, 0.65), (0.765, 0.63), (0.667, 0.58), (0.201, 0.56), (0.25, 0.51),
    (0.358, 0.49), (0.211, 0.45), (0.309, 0.47), (0.431, 0.45), (0.48, 0.44), (0.725, 0.51), (0.603, 0.47),
    (0.716, 0.42), (0.333, 0.40), (0.382, 0.37), (0.48, 0.39), (0.529, 0.34), (0.137, 0.35), (0.235, 0.32),
    (0.324, 0.29), (0.407, 0.27), (1.446, 0.38), (0.824, 0.34), (0.784, 0.28), (0.897, 0.23), (0.995, 0.18),
    (0.603, 0.23), (0.529, 0.21), (0.431, 0.15), (0.456, 0.14), (-0.167, 0.28), (0.113, 0.22), (0.186, 0.24),
    (0.26, 0.20), (0.333, 0.22), (0.137, 0.16), (0.211, 0.14), (0.294, 0.12), (0.358, 0.10), (0.431, 0.03),
    (0.088, 0.12), (0.162, 0.08), (0.235, 0.05), (0.324, 0.01), (0.382, -0.02), (0.309, -0.04), (0.064, 0.06),
    (0.127, 0.01), (0.186, -0.03), (0.147, -0.08), (0.235, -0.09), (0.162, -0.13), (0.225, -0.14),
    (0.471, -0.27), (0.162, -0.32), (-0.157, 0.04), (-0.206, 0.0), (-0.328, -0.01), (-0.157, -0.04),
    (-0.23, -0.06), (-0.181, -0.09), (-0.108, -0.10), (-0.279, -0.08), (-0.412, -0.09), (-0.304, -0.13),
    (-0.206, -0.14), (-0.132, -0.16), (-0.083, -0.18), (-0.255, -0.18), (-0.181, -0.20), (-0.108, -0.21),
    (-0.353, -0.20), (-0.475, -0.18), (-0.5, -0.24), (-0.279, -0.24), (-0.206, -0.25), (-0.132, -0.22),
    (-0.304, -0.29), (-0.255, -0.30), (-0.206, -0.22), (-0.907, -0.38), (-0.755, -0.44), (-0.23, -0.41),
    (-0.451, -0.52), (-0.304, -0.61), (-0.417, -0.80), (0.882, -0.40), (0.039, -0.16), (0.015, -0.20),
    (0.2, 0.25), (0.25, 0.35), (0.28, 0.18), (0.15, 0.28), (0.22, 0.1), (0.3, 0.3), (0.35, 0.3), (0.4, 0.35),
    (0.1, 0.05), (0.05, -0.05), (-0.2, -0.12), (-0.17, -0.15), (-0.24, -0.1), (-0.15, -0.27), (-0.3, -0.16),
]

CMC_BD = [
    (0.366, 0.219), (0.12, 0.203), (0.141, 0.143), (0.088, 0.126), (0.097, 0.11), (0.105, 0.091), (-0.133, 0.097),
    (0.089, 0.072), (0.105, 0.076), (0.085, 0.057), (0.24, 0.139), (0.28, 0.124), (-0.11, 0.031), (-0.089, 0.018),
    (-0.061, 0.012), (-0.102, 0.010), (-0.133, -0.006), (-0.113, -0.005), (-0.089, -0.011), (-0.124, -0.014),
    (-0.152, -0.039), (-0.133, -0.033), (-0.089, -0.027), (-0.12, -0.052), (-0.255, -0.019), (-0.077, -0.052),
    (-0.089, -0.07), (0.089, 0.048), (0.097, 0.032), (0.136, 0.035), (0.183, 0.041), (0.19, 0.035),
    (0.167, 0.021), (0.179, -0.005), (0.229, -0.02), (0.255, -0.042), (-0.159, -0.148), (-0.124, -0.168),
    (-0.188, -0.178), (-0.203, -0.21), (-0.4, -0.294), (-0.257, -0.285), (-0.151, -0.386), (0.019, 0.041),
    (0.05, 0.023), (0.066, 0.054),
]

GVEX_BD = [
    (0.366, 0.147), (0.082, 0.186), (0.097, 0.136), (0.1, 0.125), (-0.133, 0.080), (0.124, 0.108),
    (0.113, 0.094), (-0.061, 0.033), (0.229, 0.035), (0.28, 0.041), (0.252, 0.025), (0.241, 0.018),
    (0.178, 0.06), (0.183, 0.029), (0.136, -0.001), (0.094, 0.023), (0.085, 0.015), (0.175, -0.041),
    (-0.082, -0.005), (-0.074, -0.024), (-0.097, -0.032), (-0.108, -0.052), (-0.128, -0.064),
    (-0.155, -0.076), (-0.175, -0.089), (-0.167, -0.105), (-0.097, -0.077), (-0.12, -0.086),
    (-0.108, -0.134), (-0.255, -0.16), (-0.133, -0.189), (-0.133, -0.201), (-0.124, -0.204),
    (-0.203, -0.269), (-0.185, -0.306), (-0.4, -0.342), (-0.151, -0.343), (-0.26, -0.417), (0.012, 0.048),
    (0.043, 0.035),
]

DUM_PD = [
    (0.278, 0.674), (0.23, 0.655), (0.06, 0.552), (0.062, 0.544), (0.11, 0.541), (0.173, 0.521), (0.2, 0.536),
    (0.069, 0.473), (0.104, 0.476), (0.18, 0.473), (0.182, 0.457), (0.084, 0.441), (0.1, 0.434), (0.11, 0.437),
    (0.094, 0.41), (0.08, 0.405), (0.108, 0.378), (0.11, 0.362), (0.112, 0.334), (0.173, 0.343), (0.128, 0.291),
    (0.138, 0.296), (0.09, 0.275), (0.103, 0.236), (0.148, 0.263), (0.056, 0.212), (0.094, 0.188),
    (0.146, 0.191), (0.182, 0.169), (0.076, 0.106), (0.124, 0.133), (0.132, 0.125), (0.192, 0.104),
    (0.098, 0.078), (0.105, 0.07), (0.128, 0.054), (0.203, 0.03), (0.091, -0.002), (0.087, -0.014),
    (0.056, -0.021), (0.132, -0.014), (0.155, -0.005), (0.178, -0.014), (0.05, -0.112), (0.076, -0.112),
    (0.057, -0.104), (0.155, -0.116), (0.039, -0.184), (0.13, -0.196), (-0.209, -0.028), (-0.233, -0.081),
    (-0.213, -0.073), (-0.186, -0.081), (-0.206, -0.104), (-0.111, -0.036), (-0.084, -0.073), (-0.186, -0.136),
    (-0.209, -0.16), (-0.217, -0.168), (-0.161, -0.16), (-0.166, -0.199), (-0.19, -0.215), (-0.131, -0.223),
    (-0.074, -0.168), (-0.052, -0.141), (-0.285, -0.179), (-0.34, -0.231), (-0.298, -0.283), (-0.231, -0.37),
    (-0.209, -0.389), (-0.19, -0.432), (-0.279, -0.646), (-0.397, -0.679),
]

GVEX_SCZ = [
    (0.236, 0.961), (0.877, 0.861), (0.185, 0.545), (0.244, 0.545), (0.115, 0.491), (0.192, 0.436),
    (0.205, 0.478), (0.231, 0.377), (0.205, 0.344), (0.077, 0.344), (0.072, 0.277), (0.141, 0.293),
    (0.154, 0.268), (-0.064, 0.105), (-0.077, 0.075), (-0.051, 0.05), (0.103, 0.184), (0.09, 0.142),
    (0.128, 0.117), (0.256, 0.134), (0.282, 0.109), (0.333, 0.168), (0.359, 0.201), (0.218, 0.075),
    (0.295, 0.0), (0.308, -0.017), (0.185, -0.132), (0.167, -0.101), (0.141, -0.067), (0.103, -0.042),
    (0.064, -0.059), (-0.077, -0.11), (-0.103, -0.152), (-0.064, -0.16), (-0.128, -0.185), (-0.077, -0.21),
    (-0.154, -0.16), (-0.179, -0.21), (-0.128, -0.244), (-0.09, -0.278), (-0.154, -0.294), (-0.231, -0.21),
    (-0.218, -0.244), (-0.103, -0.311), (-0.064, -0.311), (-0.115, -0.361), (-0.167, -0.278),
    (-0.192, -0.303), (-0.159, -0.328), (-0.108, -0.375), (-0.154, -0.4), (-0.354, -0.365), (0.174, -0.348),
    (-0.236, -0.459), (-0.244, -0.543), (-0.295, -0.58), (-0.354, -0.618), (-0.321, -0.672),
    (-0.282, -0.672), (0.064, -0.21), (0.09, -0.244), (-0.051, -0.261), (-0.031, -0.227),
    (0.05, 0.05), (0.08, 0.08), (0.11, 0.02), (0.07, -0.02), (0.12, 0.15), (-0.02, -0.05), (-0.04, -0.1),
]

CMC_SCZ = [
    (0.236, 0.792), (0.877, 0.775), (0.179, 0.52), (0.244, 0.503), (0.179, 0.397), (0.2, 0.369),
    (0.205, 0.335), (0.077, 0.34), (0.103, 0.293), (0.128, 0.277), (0.328, 0.243), (0.354, 0.172),
    (0.077, 0.209), (0.103, 0.201), (0.141, 0.218), (0.167, 0.193), (0.051, 0.159), (0.09, 0.151),
    (0.128, 0.168), (0.154, 0.142), (0.179, 0.125), (0.064, 0.109), (0.103, 0.092), (0.141, 0.084),
    (0.167, 0.058), (0.256, 0.058), (0.346, 0.092), (0.051, 0.05), (0.09, 0.033), (0.128, 0.025),
    (0.167, 0.008), (0.064, 0.0), (0.115, -0.017), (0.251, -0.047), (0.303, -0.026), (0.141, -0.059),
    (0.09, -0.067), (0.051, -0.05), (0.123, -0.101), (0.149, -0.118), (0.115, -0.173), (0.128, -0.202),
    (-0.064, 0.016), (-0.038, 0.042), (-0.103, 0.008), (-0.128, 0.025), (-0.154, 0.0), (-0.077, -0.017),
    (-0.115, -0.034), (-0.154, -0.026), (-0.192, -0.051), (-0.179, -0.009), (-0.051, -0.059),
    (-0.09, -0.076), (-0.128, -0.084), (-0.167, -0.093), (-0.205, -0.101), (-0.236, -0.08), (-0.295, -0.08),
    (-0.354, -0.107), (-0.295, -0.132), (-0.346, -0.157), (-0.038, -0.101), (-0.064, -0.135),
    (-0.103, -0.143), (-0.244, -0.404), (-0.154, -0.236), (-0.128, -0.278), (-0.026, -0.009),
    (0.013, 0.008), (-0.051, -0.026),
]

# regression fits (x, fit, lower CI, upper CI)
AD_ROSMAP_FIT = dict(x=[-0.30, -0.15, 0.03, 0.20, 0.368], y=[-1.563, -0.811, 0.094, 0.940, 1.784],
                     lo=[-1.733, -0.901, 0.064, 0.860, 1.634], hi=[-1.393, -0.721, 0.124, 1.020, 1.934])
ASD_PAN_FIT = dict(x=[-0.906, -0.4, 0.15, 0.8, 1.45], y=[-0.575, -0.238, 0.128, 0.561, 0.993],
                   lo=[-0.690, -0.288, 0.108, 0.511, 0.893], hi=[-0.460, -0.188, 0.148, 0.611, 1.093])
BD_CMC_FIT = dict(x=[-0.4, -0.2, -0.02, 0.2, 0.369], y=[-0.2087, -0.106, -0.0136, 0.0994, 0.1862],
                  lo=[-0.2637, -0.131, -0.0256, 0.0744, 0.1362], hi=[-0.1537, -0.081, -0.0016, 0.1244, 0.2362])
BD_GVEX_FIT = dict(x=[-0.4, -0.2, -0.02, 0.2, 0.369], y=[-0.2727, -0.1562, -0.0513, 0.0768, 0.175],
                   lo=[-0.3327, -0.1862, -0.0663, 0.0468, 0.12], hi=[-0.2127, -0.1262, -0.0363, 0.1068, 0.23])
PD_DUM_FIT = dict(x=[-0.397, -0.2, -0.03, 0.15, 0.2776], y=[-0.503, -0.2194, 0.0253, 0.2844, 0.468],
                  lo=[-0.628, -0.2794, -0.0047, 0.2344, 0.378], hi=[-0.378, -0.1594, 0.0553, 0.3344, 0.558])
SCZ_GVEX_FIT = dict(x=[-0.354, -0.1, 0.05, 0.5, 0.877], y=[-0.453, -0.1528, 0.0245, 0.5564, 1.002],
                    lo=[-0.498, -0.1728, 0.0095, 0.5064, 0.912], hi=[-0.408, -0.1328, 0.0395, 0.6064, 1.092])
SCZ_CMC_FIT = dict(x=[-0.354, -0.1, 0.05, 0.5, 0.877], y=[-0.226, -0.0593, 0.0392, 0.3346, 0.582],
                   lo=[-0.256, -0.0743, 0.0272, 0.2896, 0.492], hi=[-0.196, -0.0443, 0.0512, 0.3796, 0.672])

R2_TEXT = {"AD": "R2=0.67", "ASD": "R2=0.79", "BD": "R2=0.82", "PD": "R2=0.66", "SCZ": "R2=0.70"}
P_TEXT = "P<2.2E-16"
DATASETS = ["ASD-pancortical", "BrainGVEX", "CommonMind", "Dumitriu", "ROSMAP"]
DATASET_LABELS = ["ASD\u2212pancortical", "BrainGVEX", "CommonMind", "Dumitriu", "ROSMAP"]

# ============================ STYLE / LAYOUT ============================
COLORS = {"ASD-pancortical": "#F0766E", "BrainGVEX": "#9E9C39", "CommonMind": "#28B67F",
          "Dumitriu": "#1CA6E2", "ROSMAP": "#A976B8"}
SIG_COLOR = "#97979a"
NONSIG_COLOR = "#cacbcd"
M = "\u2212"


def fmt(v, d):
    s = f"{abs(v):.{d}f}"
    return (M + s) if v < 0 else s


A_PANELS = [
    dict(name="AD", pts=AD_POINTS + AD_POINTS_CORE, genes=AD_LABEL_GENES, targets=AD_LABEL_TARGETS,
         box=(119.6, 65.3, 659.4, 449.4), strip=5.0, xr=(-2.177, 2.373), yr=(-0.98, 19.77),
         xt=[-2, -1, 0, 1, 2], xd=0, xm=[-1.5, -0.5, 0.5, 1.5], yt=[0, 5, 10, 15], yd=0,
         ym=[2.5, 7.5, 12.5, 17.5], bw=3.2, bc="#111111",
         lab=[(298.2, 79.6, 491.1, 127.7), (502.2, 79.6, 612.5, 127.7), (333.9, 142, 464.3, 189.7),
              (517, 153.2, 645, 200.7), (405.4, 215, 550, 262.7)],
         seg={"CDC42": (591.5, 153.2), "LGALS8": (479.9, 214.9)}),
    dict(name="ASD", pts=ASD_POINTS + ASD_POINTS_CORE, genes=ASD_LABEL_GENES, targets=ASD_LABEL_TARGETS,
         box=(780.2, 65.3, 1335.3, 449.4), strip=5.0, xr=(-1.01, 1.567), yr=(-0.254, 5.29),
         xt=[-1.0, -0.5, 0.0, 0.5, 1.0, 1.5], xd=1, xm=[-0.75, -0.25, 0.25, 0.75, 1.25],
         yt=[0, 1, 2, 3, 4, 5], yd=0, ym=[0.5, 1.5, 2.5, 3.5, 4.5], bw=2, bc="#333333",
         lab=[(814.9, 79.6, 930.7, 127.7), (1073.8, 96.8, 1160.5, 144.9), (1167.5, 94.5, 1323.6, 142.6),
              (948, 170.1, 1059, 217.9), (1121.5, 170.1, 1210.8, 217.9)],
         seg={"PELI1": (1020.9, 170.1)}),
    dict(name="BD", pts=BD_POINTS + BD_POINTS_CORE, genes=BD_LABEL_GENES, targets=BD_LABEL_TARGETS,
         box=(1457.6, 65.3, 2013.1, 449.4), strip=5.0, xr=(-0.437, 0.406), yr=(-0.157, 3.26),
         xt=[-0.4, -0.2, 0.0, 0.2, 0.4], xd=1, xm=[-0.3, -0.1, 0.1, 0.3], yt=[0, 1, 2, 3], yd=0,
         ym=[0.5, 1.5, 2.5], bw=2, bc="#333333",
         lab=[(1685.2, 79.6, 1817.2, 127.7), (1835.2, 101.5, 2000.2, 149.3), (1528.3, 125, 1658.6, 172.5),
              (1696.3, 174.8, 1829.2, 222.2), (1525.7, 200.7, 1670.6, 248.1)],
         seg={}),
    dict(name="MDD", pts=MDD_POINTS + MDD_POINTS_CORE, genes=MDD_LABEL_GENES, targets=MDD_LABEL_TARGETS,
         box=(129.5, 588.6, 658.5, 973.2), strip=526.8, xr=(-0.2756, 0.1553), yr=(-0.123, 2.58),
         xt=[-0.2, -0.1, 0.0, 0.1], xd=1, xm=[-0.25, -0.15, -0.05, 0.05, 0.15],
         yt=[0, 0.5, 1.0, 1.5, 2.0, 2.5], yd=1, ym=[0.25, 0.75, 1.25, 1.75, 2.25], bw=2, bc="#333333",
         lab=[(185.3, 607.1, 323.7, 655.7), (505.8, 620, 621.4, 667.9), (171, 680.7, 323.7, 728.9),
              (464.3, 692.9, 596.9, 741.4), (332.1, 763.6, 445.5, 812.1)],
         seg={"HRAS": (383, 763.6)}),
    dict(name="PD", pts=PD_POINTS + PD_POINTS_CORE, genes=PD_LABEL_GENES, targets=PD_LABEL_TARGETS,
         box=(780.2, 588.6, 1335.3, 973.2), strip=526.8, xr=(-0.4277, 0.3074), yr=(-0.157, 3.287),
         xt=[-0.4, -0.2, 0.0, 0.2], xd=1, xm=[-0.3, -0.1, 0.1, 0.3], yt=[0, 1, 2, 3], yd=0,
         ym=[0.5, 1.5, 2.5], bw=2, bc="#333333",
         lab=[(995.7, 602.1, 1114.1, 650), (1190.9, 602.1, 1323.6, 650), (1095.5, 675, 1224.7, 723.2),
              (987.1, 710.7, 1104.2, 758.9), (1202.2, 745.7, 1323.6, 793.9)],
         seg={"MFNG": (1114.1, 625), "CASP1": (1163.1, 675), "RIPK2": (1104.2, 724.3),
              "KAT6A": (1262.9, 745.7)}),
    dict(name="SCZ", pts=SCZ_POINTS + SCZ_POINTS_CORE, genes=SCZ_LABEL_GENES, targets=SCZ_LABEL_TARGETS,
         box=(1457.6, 588.6, 2012.2, 973.2), strip=526.8, xr=(-0.4274, 0.938), yr=(-0.313, 6.56),
         xt=[0.0, 0.5], xd=1, xm=[-0.25, 0.25, 0.75], yt=[0, 2, 4, 6], yd=0, ym=[1, 3, 5],
         bw=2, bc="#333333",
         lab=[(1605.9, 602.1, 1734.5, 650.4), (1837.8, 616.4, 1975.8, 665.4), (1469.2, 645, 1579.3, 693.2),
              (1725.5, 690.4, 1853.6, 738.6), (1567.3, 718.2, 1699.3, 766.4)],
         seg={"NR3C1": (1605.9, 626.1), "TGFB2": (1725.1, 702.9), "ERCC1": (1628.6, 718.2)}),
]

B_PANELS = [
    dict(name="AD", box=(134.5, 1243.5, 377.4, 1750), xr=(-0.3355, 0.4026), yr=(-2.355, 2.19),
         xt=[-0.2, 0.0, 0.2, 0.4], xd=1, yt=[-2, -1, 0, 1, 2], yd=0,
         series=[("ROSMAP", ROSMAP_AD)], fits=[("ROSMAP", AD_ROSMAP_FIT)], r2=(234, 1641.5, 1679.8)),
    dict(name="ASD", box=(456.0, 1243.5, 698.8, 1750), xr=(-1.0235, 1.568), yr=(-0.895, 1.349),
         xt=[-1.0, -0.5, 0.0, 0.5, 1.0, 1.5], xd=1, yt=[-0.5, 0.0, 0.5, 1.0], yd=1,
         series=[("ASD-pancortical", ASDPAN_ASD)], fits=[("ASD-pancortical", ASD_PAN_FIT)],
         r2=(563.8, 1646.4, 1684.9)),
    dict(name="BD", box=(778.1, 1243.5, 1020.5, 1750), xr=(-0.439, 0.405), yr=(-0.45, 0.2807),
         xt=[-0.4, -0.2, 0.0, 0.2, 0.4], xd=1, yt=[-0.4, -0.2, 0.0, 0.2], yd=1,
         series=[("BrainGVEX", GVEX_BD), ("CommonMind", CMC_BD)],
         fits=[("BrainGVEX", BD_GVEX_FIT), ("CommonMind", BD_CMC_FIT)], r2=(862, 1642.6, 1680.4)),
    dict(name="PD", box=(1086.2, 1243.5, 1329.5, 1750), xr=(-0.431, 0.312), yr=(-0.761, 1.098),
         xt=[-0.4, -0.2, 0.0, 0.2], xd=1, yt=[-0.5, 0.0, 0.5, 1.0], yd=1,
         series=[("Dumitriu", DUM_PD)], fits=[("Dumitriu", PD_DUM_FIT)], r2=(1167.9, 1640.9, 1679)),
    dict(name="SCZ", box=(1420.7, 1243.5, 1663.8, 1750), xr=(-0.4176, 0.936), yr=(-0.764, 1.2085),
         xt=[0.0, 0.5], xd=1, yt=[-0.4, 0.0, 0.4, 0.8, 1.2], yd=1,
         series=[("BrainGVEX", GVEX_SCZ), ("CommonMind", CMC_SCZ)],
         fits=[("BrainGVEX", SCZ_GVEX_FIT), ("CommonMind", SCZ_CMC_FIT)], r2=(1533.5, 1636.1, 1674.2)),
]


def px(x):
    return x / W


def py(y):
    return 1 - y / H


def axn(n):
    return "" if n == 1 else str(n)


def hexa(c, a):
    c = c.lstrip("#")
    return f"rgba({int(c[0:2], 16)},{int(c[2:4], 16)},{int(c[4:6], 16)},{a})"


def rounded(x0, y0, x1, y1, r=7):
    X = lambda v: f"{px(v):.6f}"
    Y = lambda v: f"{py(v):.6f}"
    return (f"M {X(x0 + r)},{Y(y0)} L {X(x1 - r)},{Y(y0)} Q {X(x1)},{Y(y0)} {X(x1)},{Y(y0 + r)} "
            f"L {X(x1)},{Y(y1 - r)} Q {X(x1)},{Y(y1)} {X(x1 - r)},{Y(y1)} "
            f"L {X(x0 + r)},{Y(y1)} Q {X(x0)},{Y(y1)} {X(x0)},{Y(y1 - r)} "
            f"L {X(x0)},{Y(y0 + r)} Q {X(x0)},{Y(y0)} {X(x0 + r)},{Y(y0)} Z")


fig = go.Figure()
layout = {}
shapes = []
annotations = []

# ------------------------------ PANEL A ------------------------------
for i, p in enumerate(A_PANELS, start=1):
    n = axn(i)
    l, t, r, b = p["box"]
    pts = p["pts"]
    light = [q for q in pts if q[1] <= Q_THRESHOLD]
    dark = [q for q in pts if q[1] > Q_THRESHOLD]
    for grp, col in ((light, NONSIG_COLOR), (dark, SIG_COLOR)):
        fig.add_trace(go.Scatter(x=[q[0] for q in grp], y=[q[1] for q in grp], mode="markers",
                                 marker=dict(size=10, color=col, line=dict(width=0)),
                                 xaxis="x" + n, yaxis="y" + n, showlegend=False, hoverinfo="skip"))
    common = dict(showgrid=True, gridcolor="#ebebeb", gridwidth=2.4, zeroline=False, automargin=False,
                  showline=True, mirror=True, linecolor=p["bc"], linewidth=p["bw"],
                  ticks="outside", ticklen=6, tickwidth=2, tickcolor="#333333", tickangle=0,
                  tickfont=dict(family=FONT, size=29, color="#4d4d4d"), tickmode="array")
    layout["xaxis" + n] = dict(domain=[px(l), px(r)], range=list(p["xr"]), anchor="y" + n,
                               tickvals=p["xt"], ticktext=[fmt(v, p["xd"]) for v in p["xt"]],
                               minor=dict(tickvals=p["xm"], showgrid=True, gridcolor="#ebebeb",
                                          gridwidth=1.2, ticks=""), **common)
    layout["yaxis" + n] = dict(domain=[py(b), py(t)], range=list(p["yr"]), anchor="x" + n,
                               tickvals=p["yt"], ticktext=[fmt(v, p["yd"]) for v in p["yt"]],
                               minor=dict(tickvals=p["ym"], showgrid=True, gridcolor="#ebebeb",
                                          gridwidth=1.2, ticks=""), **common)
    shapes.append(dict(type="rect", xref="paper", yref="paper", x0=px(l), x1=px(r), y0=py(t), y1=py(p["strip"]),
                       fillcolor="#d3d3d5", line=dict(color="#333333", width=2), layer="above"))
    annotations.append(dict(x=px((l + r) / 2), y=py((t + p["strip"]) / 2), xref="paper", yref="paper",
                            text=p["name"], showarrow=False, xanchor="center", yanchor="middle",
                            font=dict(family=FONT, size=29, color="#1a1a1a")))
    shapes.append(dict(type="line", xref=f"x{n} domain", yref="y" + n, x0=0, x1=1,
                       y0=Q_THRESHOLD, y1=Q_THRESHOLD, layer="above",
                       line=dict(color="#ee2622", width=6.5, dash="7px,23px")))
    x0d, x1d = p["xr"]
    y0d, y1d = p["yr"]
    for gene, bx in zip(p["genes"], p["lab"]):
        if gene in p["seg"]:
            ex, ey = p["seg"][gene]
            dx = x0d + (ex - l) / (r - l) * (x1d - x0d)
            dy = y1d - (ey - t) / (b - t) * (y1d - y0d)
            gx, gy = p["targets"][gene]
            shapes.append(dict(type="line", xref="x" + n, yref="y" + n, x0=gx, y0=gy, x1=dx, y1=dy,
                               layer="above", line=dict(color="black", width=2.6)))
        shapes.append(dict(type="path", xref="paper", yref="paper", path=rounded(*bx), layer="above",
                           fillcolor="white", line=dict(color="black", width=2)))
        annotations.append(dict(x=px((bx[0] + bx[2]) / 2), y=py((bx[1] + bx[3]) / 2), xref="paper",
                                yref="paper", text=gene, showarrow=False, xanchor="center",
                                yanchor="middle", font=dict(family=FONT, size=30, color="black")))

# ------------------------------ PANEL B ------------------------------
for k, p in enumerate(B_PANELS, start=7):
    n = axn(k)
    l, t, r, b = p["box"]
    for ds, pts in p["series"]:
        fig.add_trace(go.Scatter(x=[q[0] for q in pts], y=[q[1] for q in pts], mode="markers",
                                 marker=dict(size=10, color=COLORS[ds], opacity=0.5, line=dict(width=0)),
                                 xaxis="x" + n, yaxis="y" + n, showlegend=False, hoverinfo="skip"))
    for ds, f in p["fits"]:
        fig.add_trace(go.Scatter(x=f["x"] + f["x"][::-1], y=f["hi"] + f["lo"][::-1], mode="lines",
                                 fill="toself", fillcolor="rgba(150,150,150,0.42)", line=dict(width=0),
                                 xaxis="x" + n, yaxis="y" + n, showlegend=False, hoverinfo="skip"))
    for ds, f in p["fits"]:
        fig.add_trace(go.Scatter(x=f["x"], y=f["y"], mode="lines", line=dict(color=COLORS[ds], width=4),
                                 xaxis="x" + n, yaxis="y" + n, showlegend=False, hoverinfo="skip"))
    common = dict(showgrid=False, zeroline=False, showline=True, mirror=False, linecolor="black",
                  linewidth=2.2, ticks="outside", ticklen=7, tickwidth=2, tickcolor="black", tickangle=0,
                  automargin=False, tickfont=dict(family=FONT, size=28, color="black"), tickmode="array")
    layout["xaxis" + n] = dict(domain=[px(l), px(r)], range=list(p["xr"]), anchor="y" + n,
                               tickvals=p["xt"], ticktext=[fmt(v, p["xd"]) for v in p["xt"]], **common)
    layout["yaxis" + n] = dict(domain=[py(b), py(t)], range=list(p["yr"]), anchor="x" + n,
                               tickvals=p["yt"], ticktext=[fmt(v, p["yd"]) for v in p["yt"]], **common)
    shapes.append(dict(type="rect", xref="paper", yref="paper", x0=px(l), x1=px(r), y0=py(1272.5),
                       y1=py(1229), fillcolor="#c6c6c9", line=dict(width=0), layer="above"))
    annotations.append(dict(x=px((l + r) / 2), y=py(1251), xref="paper", yref="paper", text=p["name"],
                            showarrow=False, xanchor="center", yanchor="middle",
                            font=dict(family=FONT, size=37, color="black")))
    rx, ry1, ry2 = p["r2"]
    for txt, yy in ((R2_TEXT[p["name"]], ry1), (P_TEXT, ry2)):
        annotations.append(dict(x=px(rx), y=py(yy), xref="paper", yref="paper", text=txt, showarrow=False,
                                xanchor="left", yanchor="middle",
                                font=dict(family=FONT, size=31, color="#1a1a1a")))

# legend (drawn manually)
annotations.append(dict(x=px(1731), y=py(1371), xref="paper", yref="paper", text="dataset", showarrow=False,
                        xanchor="left", yanchor="middle", font=dict(family=FONT, size=38, color="black")))
key_tops = [1408.3, 1468.8, 1529.3, 1589.9, 1651.2]
for ds, lab, kt in zip(DATASETS, DATASET_LABELS, key_tops):
    kc = kt + 29
    shapes.append(dict(type="rect", xref="paper", yref="paper", x0=px(1735.2), x1=px(1794.1),
                       y0=py(kt + 58), y1=py(kt), fillcolor="#cbcbcd", line=dict(width=0)))
    shapes.append(dict(type="circle", xref="paper", yref="paper", x0=px(1759.6), x1=px(1769.6),
                       y0=py(kc + 5), y1=py(kc - 5), fillcolor=hexa(COLORS[ds], 0.35), line=dict(width=0)))
    shapes.append(dict(type="line", xref="paper", yref="paper", x0=px(1740), x1=px(1789), y0=py(kc), y1=py(kc),
                       line=dict(color=COLORS[ds], width=7)))
    annotations.append(dict(x=px(1765), y=py(kc + 6), xref="paper", yref="paper", text="<i>a</i>",
                            showarrow=False, xanchor="center", yanchor="middle",
                            font=dict(family="Liberation Serif, serif", size=28, color=hexa(COLORS[ds], 0.6))))
    annotations.append(dict(x=px(1813), y=py(kc), xref="paper", yref="paper", text=lab, showarrow=False,
                            xanchor="left", yanchor="middle", font=dict(family=FONT, size=31, color="black")))

# titles & panel letters
titles = [
    dict(x=px(59), y=py(28), text="<b>A</b>", font=dict(family=FONT, size=52, color="black")),
    dict(x=px(59), y=py(1140), text="<b>B</b>", font=dict(family=FONT, size=52, color="black")),
    dict(x=px(1058), y=py(1048), text="Fold Change", font=dict(family=FONT, size=38, color="black")),
    dict(x=px(32), y=py(456), text="-log10(qvalue)", textangle=-90, font=dict(family=FONT, size=47, color="black")),
    dict(x=px(943), y=py(1834), text="Microarray log2FC", font=dict(family=FONT, size=42, color="black")),
    dict(x=px(53), y=py(1470), text="RNAseq log2FC", textangle=-90, font=dict(family=FONT, size=42, color="black")),
]
for a in titles:
    a.update(xref="paper", yref="paper", showarrow=False, xanchor="center", yanchor="middle")
annotations += titles
annotations.append(dict(x=px(101), y=py(1163), xref="paper", yref="paper", text="RNAseq Replication",
                        showarrow=False, xanchor="left", yanchor="middle",
                        font=dict(family=FONT, size=45, color="black")))

fig.update_layout(width=W, height=H, margin=dict(l=0, r=0, t=0, b=0, autoexpand=False), paper_bgcolor="white",
                  plot_bgcolor="rgba(0,0,0,0)", showlegend=False, shapes=shapes, annotations=annotations,
                  font=dict(family=FONT))
fig.update_layout(**layout)
fig.write_html("out.html", config={"displayModeBar": False},
               post_script="document.body.style.margin='0';document.body.style.overflow='hidden';")
